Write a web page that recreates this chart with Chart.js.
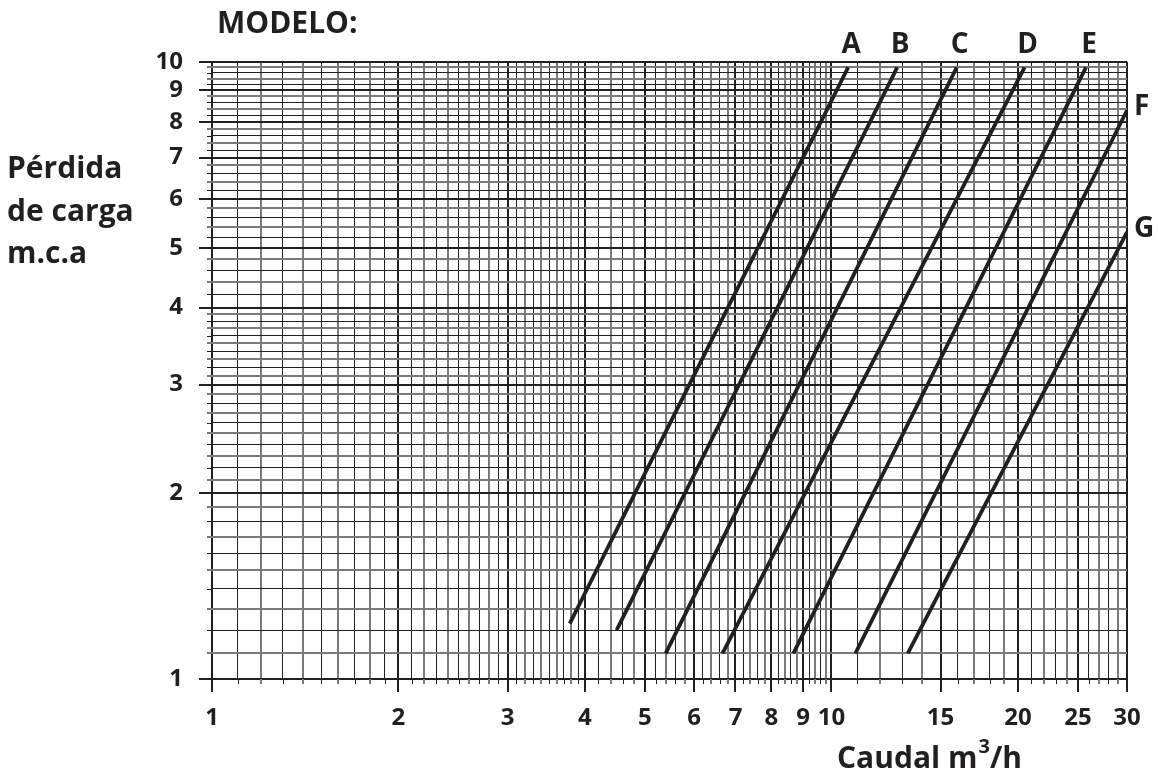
<!DOCTYPE html>
<html><head><meta charset="utf-8">
<script src="https://cdn.jsdelivr.net/npm/chart.js@4.4.0/dist/chart.umd.min.js"></script>
<style>html,body{margin:0;padding:0;background:#fff;}</style>
</head><body>
<canvas id="c" width="1158" height="774"></canvas>
<script>
// ---- data ----
const curveNames = ['A','B','C','D','E','F','G'];
const flowStart  = [3.78, 4.5, 5.4, 6.67, 8.68, 10.93, 13.28];   // m3/h
const lossStart  = [1.23, 1.2, 1.1, 1.1, 1.1, 1.1, 1.1];          // m.c.a
const flowEnd    = [10.64, 12.77, 15.93, 20.5, 25.76, 30, 30];
const lossEnd    = [9.8, 9.8, 9.8, 9.8, 9.8, 8.35, 5.3];
const xTickLabels = [1,2,3,4,5,6,7,8,9,10,15,20,25,30];
const yTickLabels = [1,2,3,4,5,6,7,8,9,10];
const titleText = 'MODELO:';
const yTitleLines = ['Pérdida','de carga','m.c.a'];
const xTitleParts = ['Caudal m','3','/h'];

// ---- grid construction (log paper) ----
function buildGrid(ranges){
  const out = [];
  ranges.forEach(([a,b,s])=>{
    for(let v=a; v<b-1e-9; v+=s){ out.push(Math.round(v*10)/10); }
  });
  return out;
}
const xGrid = buildGrid([[1,4,0.1],[4,10,0.2],[10,30,1]]).concat([30]);
const yGrid = buildGrid([[1,4,0.1],[4,10,0.2]]).concat([10]);

const INK = '#231f20';
const GRAY = '#7a7a7a';
const FONT = "'Open Sans','Noto Sans',sans-serif";
const near = (a,b)=>Math.abs(a-b)<1e-6;
const isMajor = (v,list)=>list.some(m=>near(m,v));

function minorIndex(v, grid, majors){
  const i = grid.findIndex(g=>near(g,v));
  let k = 0;
  for(let j=i; j>=0 && !isMajor(grid[j],majors); j--) k++;
  return k;
}
function lineStyle(v, axis){
  const majors = axis==='x' ? xTickLabels : yTickLabels;
  const grid = axis==='x' ? xGrid : yGrid;
  if(isMajor(v,majors)) return {color:INK, width:2};
  const k = minorIndex(v,grid,majors);
  let gray;
  if(axis==='x') gray = (k%2===0);
  else gray = (v<4) ? (k%2===1) : (k%2===0);
  return gray ? {color:GRAY, width:2} : {color:INK, width:1};
}

const stubPlugin = {
  id:'stubs',
  afterDraw(chart){
    const c = chart.ctx, xs = chart.scales.x, ys = chart.scales.y, a = chart.chartArea;
    c.save();
    xGrid.forEach(v=>{
      if(isMajor(v,xTickLabels)) return;
      const st = lineStyle(v,'x');
      const p = Math.round(xs.getPixelForValue(v)) + (st.width===1?0.5:0);
      c.strokeStyle = st.color; c.lineWidth = st.width;
      c.beginPath(); c.moveTo(p,a.bottom); c.lineTo(p,a.bottom+5); c.stroke();
    });
    yGrid.forEach(v=>{
      if(isMajor(v,yTickLabels)) return;
      const st = lineStyle(v,'y');
      const p = Math.round(ys.getPixelForValue(v)) + (st.width===1?0.5:0);
      c.strokeStyle = st.color; c.lineWidth = st.width;
      c.beginPath(); c.moveTo(a.left-5,p); c.lineTo(a.left,p); c.stroke();
    });
    c.restore();
  }
};

const textPlugin = {
  id:'texts',
  afterDraw(chart){
    const c = chart.ctx, xs = chart.scales.x, ys = chart.scales.y;
    c.save();
    c.fillStyle = INK;
    c.textBaseline = 'alphabetic';
    c.textAlign = 'left';
    c.font = `700 30px ${FONT}`;
    c.fillText(titleText, 217, 33);
    yTitleLines.forEach((t,i)=>c.fillText(t, 7, 178 + i*42.5));
    // x title with superscript
    let x = 837;
    c.fillText(xTitleParts[0], x, 768); x += c.measureText(xTitleParts[0]).width + 1;
    c.font = `700 20px ${FONT}`;
    c.fillText(xTitleParts[1], x, 753); x += c.measureText(xTitleParts[1]).width;
    c.font = `700 30px ${FONT}`;
    c.fillText(xTitleParts[2], x, 768);
    // curve labels
    c.font = `700 28px ${FONT}`;
    c.textBaseline = 'middle';
    curveNames.forEach((n,i)=>{
      const px = xs.getPixelForValue(flowEnd[i]);
      const py = ys.getPixelForValue(lossEnd[i]);
      if(flowEnd[i] >= 30 - 1e-9){
        c.textAlign = 'left';
        c.fillText(n, px + 7, py - 3);
      } else {
        c.textAlign = 'center';
        c.fillText(n, px + 3, py - 22);
      }
    });
    c.restore();
  }
};

const datasets = curveNames.map((n,i)=>({
  label:n,
  data:[{x:flowStart[i], y:lossStart[i]},{x:flowEnd[i], y:lossEnd[i]}],
  borderColor:INK, backgroundColor:INK, borderWidth:3.8,
  pointRadius:0, fill:false, tension:0, borderCapStyle:'butt'
}));

new Chart(document.getElementById('c'), {
  type:'line',
  data:{datasets},
  plugins:[stubPlugin, textPlugin],
  options:{
    responsive:false, animation:false, devicePixelRatio:1,
    layout:{padding:{top:62,right:31,bottom:0,left:0}},
    plugins:{legend:{display:false}, tooltip:{enabled:false}, title:{display:false}},
    scales:{
      x:{
        type:'logarithmic', min:1, max:30,
        afterBuildTicks(s){ s.ticks = xGrid.map(v=>({value:v})); },
        afterFit(s){ s.height = 95; },
        border:{display:false},
        grid:{
          color:ctx=>lineStyle(ctx.tick.value,'x').color,
          lineWidth:ctx=>lineStyle(ctx.tick.value,'x').width,
          tickLength:13,
          tickColor:ctx=>isMajor(ctx.tick.value,xTickLabels)?INK:'rgba(0,0,0,0)',
          tickWidth:2
        },
        ticks:{
          autoSkip:false, maxRotation:0, minRotation:0, padding:12,
          color:INK, font:{family:FONT, size:24, weight:'700'},
          callback:(v)=>isMajor(v,xTickLabels)?String(xTickLabels.find(m=>near(m,v))):''
        }
      },
      y:{
        type:'logarithmic', min:1, max:10,
        afterBuildTicks(s){ s.ticks = yGrid.map(v=>({value:v})); },
        afterFit(s){ s.width = 212; },
        border:{display:false},
        grid:{
          color:ctx=>lineStyle(ctx.tick.value,'y').color,
          lineWidth:ctx=>lineStyle(ctx.tick.value,'y').width,
          tickLength:13,
          tickColor:ctx=>isMajor(ctx.tick.value,yTickLabels)?INK:'rgba(0,0,0,0)',
          tickWidth:2
        },
        ticks:{
          autoSkip:false, padding:16,
          color:INK, font:{family:FONT, size:24, weight:'700'},
          callback:(v)=>isMajor(v,yTickLabels)?String(yTickLabels.find(m=>near(m,v))):''
        }
      }
    }
  }
});
</script>
</body></html>
